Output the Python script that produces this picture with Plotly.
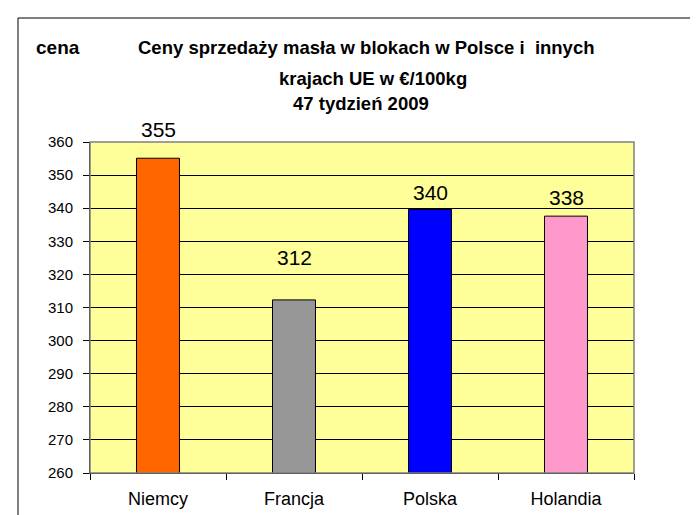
import plotly.graph_objects as go

categories = ["Niemcy", "Francja", "Polska", "Holandia"]
prices = [355.1, 312.3, 339.6, 337.6]
bar_colors = ["#FF6600", "#969696", "#0000FF", "#FF99CC"]
label_shift = [15, 29, 4, 5]
y_ticks = list(range(260, 361, 10))

title_lines = ["Ceny sprzedaży masła w blokach w Polsce i  innych",
               "krajach UE w €/100kg",
               "47 tydzień 2009"]

W, H = 698, 515
L, R, T, B = 82, 72, 134, 50
pw, ph = W - L - R, H - T - B


def px(x):
    return (x - L) / pw


def py(y):
    return (H - B - y) / ph


fig = go.Figure()
fig.add_trace(go.Bar(
    x=categories, y=prices,
    marker=dict(color=bar_colors, line=dict(color="#000000", width=1)),
    width=0.316,
    hoverinfo="x+y",
))

for c, v, s in zip(categories, prices, label_shift):
    fig.add_annotation(x=c, y=v, text=f"{v:.0f}", showarrow=False,
                       yanchor="bottom", yshift=s,
                       font=dict(family="Liberation Sans, Arial", size=21, color="#000"))

# outer chart border (only top and left edges fall inside the picture)
fig.add_shape(type="rect", xref="paper", yref="paper",
              x0=px(10), x1=px(720), y0=py(540), y1=py(10),
              line=dict(color="#000", width=1), fillcolor="rgba(0,0,0,0)", layer="below")

title_pos = [(358, 40), (365, 70), (353, 95)]
for t, (xx, yy) in zip(title_lines, title_pos):
    fig.add_annotation(xref="paper", yref="paper", x=px(xx), y=py(yy), text=f"<b>{t}</b>",
                       showarrow=False, xanchor="center", yanchor="middle",
                       font=dict(family="Liberation Sans, Arial", size=18.5, color="#000"))
fig.add_annotation(xref="paper", yref="paper", x=px(26), y=py(40), text="<b>cena</b>",
                   showarrow=False, xanchor="left", yanchor="middle",
                   font=dict(family="Liberation Sans, Arial", size=19, color="#000"))

fig.update_layout(
    width=W, height=H,
    margin=dict(l=L, r=R, t=T, b=B, pad=0),
    paper_bgcolor="#FFFFFF",
    plot_bgcolor="#FFFF99",
    showlegend=False,
    font=dict(family="Liberation Sans, Arial", color="#000"),
    xaxis=dict(showgrid=False, showline=True, linecolor="#000", linewidth=1,
               ticks="outside", tickson="boundaries", ticklen=6, tickcolor="#000",
               ticklabelstandoff=9,
               tickfont=dict(size=18), zeroline=False),
    yaxis=dict(range=[260, 360], tickvals=y_ticks, showgrid=True, gridcolor="#000",
               gridwidth=1, showline=True, linecolor="#000", linewidth=1,
               ticks="outside", ticklen=6, tickcolor="#000", ticklabelstandoff=7,
               tickfont=dict(size=15), zeroline=False),
)
fig.add_shape(type="rect", xref="paper", yref="paper", x0=0, x1=1, y0=0, y1=1,
              line=dict(color="#808080", width=1.5), fillcolor="rgba(0,0,0,0)")

fig.write_html("out.html")
